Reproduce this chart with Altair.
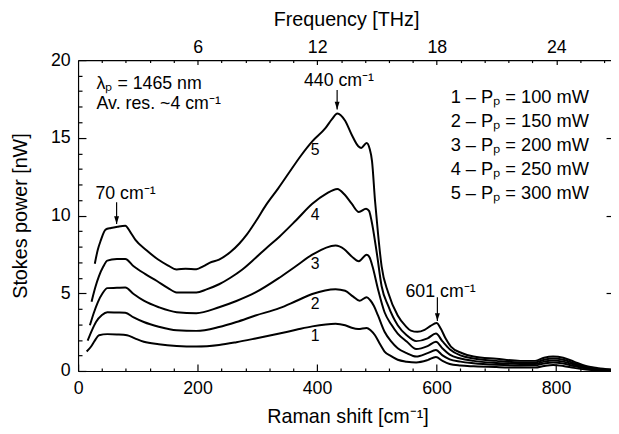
import altair as alt
import pandas as pd

FONT = "Liberation Sans"

# ---- curve data (Raman shift [cm-1], Stokes power [nW]) ----
shift_1 = [14.4, 21.5, 28, 35, 49, 65, 82, 95, 110, 135, 165, 198, 236, 265, 297, 337, 365, 392, 431, 447,
           458, 469, 483, 490, 497, 505, 513, 524, 535, 550, 566, 585, 599, 610, 622, 640, 662, 700, 740, 765,
           780, 795, 812, 830, 850, 870, 892]
power_1 = [1.25, 1.56, 1.95, 2.3, 2.37, 2.35, 2.3, 2.1, 1.88, 1.72, 1.61, 1.57, 1.67, 1.85, 2.09, 2.41, 2.65, 2.87, 3.04, 2.94,
           2.78, 2.7, 2.77, 2.6, 2.3, 1.75, 1.25, 0.95, 0.72, 0.6, 0.55, 0.7, 0.9, 0.65, 0.45, 0.35, 0.3, 0.25, 0.22, 0.22,
           0.32, 0.38, 0.32, 0.2, 0.1, 0.05, 0.03]

shift_2 = [16, 23, 30, 40, 49, 65, 79, 93, 110, 135, 165, 198, 236, 265, 297, 337, 365, 392, 431, 447,
           460, 471, 483, 489, 495, 502, 513, 524, 535, 550, 566, 585, 599, 610, 622, 640, 662, 700, 740, 765,
           780, 795, 812, 830, 850, 870, 892]
power_2 = [1.95, 2.6, 3.15, 3.6, 3.78, 3.76, 3.74, 3.45, 3.15, 2.85, 2.62, 2.58, 2.83, 3.15, 3.57, 4.04, 4.5, 4.95, 5.26, 5.16,
           4.8, 4.52, 4.74, 4.55, 4.2, 3.57, 2.52, 1.9, 1.46, 1.15, 0.93, 1.15, 1.35, 1.0, 0.75, 0.6, 0.5, 0.4, 0.35, 0.36,
           0.48, 0.55, 0.48, 0.32, 0.17, 0.09, 0.05]

shift_3 = [19.8, 26, 33, 41, 49, 65, 79, 93, 110, 135, 165, 198, 236, 265, 297, 337, 365, 392, 431, 445,
           458, 470, 483, 488, 493, 502, 513, 524, 535, 550, 566, 585, 599, 610, 622, 640, 662, 700, 740, 765,
           780, 795, 812, 830, 850, 870, 892]
power_3 = [2.94, 3.7, 4.42, 5.0, 5.33, 5.35, 5.37, 4.95, 4.52, 4.1, 3.78, 3.72, 4.1, 4.5, 5.05, 6.0, 6.75, 7.48, 8.07, 7.85,
           7.37, 7.06, 7.48, 7.3, 6.7, 5.26, 3.78, 3.0, 2.41, 1.9, 1.41, 1.6, 1.88, 1.45, 1.05, 0.8, 0.65, 0.52, 0.45, 0.45,
           0.6, 0.68, 0.6, 0.42, 0.22, 0.12, 0.07]

shift_4 = [22.6, 29, 35, 42, 49, 65, 79, 93, 112, 132, 150, 165, 198, 215, 236, 255, 275, 297, 315, 337,
           365, 392, 415, 434, 446, 458, 470, 482, 487, 491, 500, 508, 519, 535, 550, 566, 585, 599, 610, 622,
           640, 662, 700, 740, 765, 780, 795, 812, 830, 850, 870, 892]
power_4 = [4.46, 5.4, 6.1, 6.7, 7.1, 7.2, 7.21, 6.74, 6.25, 5.79, 5.35, 5.05, 5.05, 5.25, 5.58, 6.0, 6.53, 7.27, 7.9, 8.64,
           9.7, 10.76, 11.4, 11.71, 11.35, 10.76, 10.23, 10.44, 10.3, 9.7, 7.59, 5.47, 4.2, 2.94, 2.3, 1.92, 2.1, 2.41, 1.9, 1.4,
           1.0, 0.8, 0.65, 0.55, 0.55, 0.72, 0.8, 0.72, 0.5, 0.27, 0.15, 0.08]

shift_5 = [28, 33, 38, 46, 55, 66, 79, 88, 96, 115, 134, 150, 165, 180, 198, 210, 220, 236, 255, 270,
           282, 297, 315, 335, 353, 372, 392, 414, 425, 434, 447, 458, 469, 474, 483, 488, 492, 497, 502, 508,
           519, 535, 548, 557, 568, 580, 590, 600, 607, 615, 624, 643, 662, 700, 740, 765, 780, 795, 812, 830,
           850, 870, 892]
power_5 = [6.9, 7.8, 8.4, 9.1, 9.2, 9.28, 9.34, 8.9, 8.43, 7.75, 7.17, 6.8, 6.53, 6.58, 6.55, 6.75, 6.96, 7.17, 7.65, 8.2,
           8.75, 9.6, 10.7, 11.75, 12.75, 13.8, 14.77, 15.62, 16.2, 16.57, 16.1, 15.2, 14.46, 14.35, 14.67, 14.3, 13.5, 10.97, 8.86, 6.74,
           5.05, 3.57, 2.9, 2.6, 2.52, 2.65, 2.9, 3.08, 2.73, 2.1, 1.57, 1.14, 0.93, 0.78, 0.65, 0.65, 0.85, 0.93, 0.85, 0.6,
           0.32, 0.18, 0.1]

curve_ids = ["1", "2", "3", "4", "5"]

# ---- ticks ----
x_major = [0, 200, 400, 600, 800]
x_minor = [40, 80, 120, 160, 240, 280, 320, 360, 440, 480, 520, 560, 640, 680, 720, 760, 840, 880]
y_major = [0, 5, 10, 15, 20]
y_minor = [1, 2, 3, 4, 6, 7, 8, 9, 11, 12, 13, 14, 16, 17, 18, 19]
y_right = [5, 10, 15]
CM_PER_THZ = 33.35641
thz_major = [6, 12, 18, 24]
thz_minor = [1.2, 2.4, 3.6, 4.8, 7.2, 8.4, 9.6, 10.8, 13.2, 14.4, 15.6, 16.8, 19.2, 20.4, 21.6, 22.8, 25.2, 26.4]

# ---- annotations ----
annot_labels = ["λₚ = 1465 nm", "Av. res. ~4 cm⁻¹", "70 cm⁻¹", "440 cm⁻¹", "601 cm⁻¹"]
annot_x = [31, 31, 29, 378, 548]
annot_y = [18.45, 17.2, 11.35, 18.66, 5.09]

legend_labels = ["1 – Pₚ = 100 mW", "2 – Pₚ = 150 mW", "3 – Pₚ = 200 mW", "4 – Pₚ = 250 mW", "5 – Pₚ = 300 mW"]
legend_x = [623.6, 623.6, 623.6, 623.6, 623.6]
legend_y = [17.6, 16.06, 14.53, 12.98, 11.43]

curve_label_x = [397, 397, 397, 397, 397]
curve_label_y = [2.25, 4.28, 6.87, 10.0, 14.22]

arrow_x = [64.5, 433.6, 601.4]
arrow_top = [10.86, 18.07, 4.74]
arrow_tip = [9.45, 16.82, 3.21]

# ---- tables ----
series = [(shift_1, power_1), (shift_2, power_2), (shift_3, power_3), (shift_4, power_4), (shift_5, power_5)]
rows = []
for cid, (sx, sy) in zip(curve_ids, series):
    for a, b in zip(sx, sy):
        rows.append({"shift": a, "power": b, "curve": cid})
df = pd.DataFrame(rows)

annot_df = pd.DataFrame({"shift": annot_x, "power": annot_y, "label": annot_labels})
legend_df = pd.DataFrame({"shift": legend_x, "power": legend_y, "label": legend_labels})
clabel_df = pd.DataFrame({"shift": curve_label_x, "power": curve_label_y, "label": curve_ids})
arrow_df = pd.DataFrame({"shift": arrow_x, "top": arrow_top, "power": arrow_tip})

xs = alt.Scale(domain=[0, 892], nice=False, zero=False)
ys = alt.Scale(domain=[0, 20], nice=False, zero=False)


def axis(**kw):
    base = dict(grid=False, domain=False, ticks=False, labels=False, labelFlush=False,
                domainColor="black", tickColor="black", labelColor="black", titleColor="black",
                labelFont=FONT, titleFont=FONT, domainWidth=1.2, tickWidth=1.2)
    base.update(kw)
    return alt.Axis(**base)


base = alt.Chart(df)

lines = base.mark_line(color="black", strokeWidth=2, interpolate="monotone").encode(
    x=alt.X("shift:Q", scale=xs, title="Raman shift [cm⁻¹]",
            axis=axis(orient="bottom", domain=True, labels=True, values=x_major, tickSize=0,
                      labelFontSize=18, labelPadding=9, titleFontSize=20, titleFontWeight="normal",
                      titleBaseline="alphabetic", titleY=52, titleX=273)),
    y=alt.Y("power:Q", scale=ys, title="Stokes power [nW]",
            axis=axis(orient="left", domain=True, labels=True, values=y_major, tickSize=0,
                      labelFontSize=18, labelPadding=8, titleFontSize=20, titleFontWeight="normal",
                      titleBaseline="alphabetic", titleAngle=270, titleX=-52, titleY=157.5,
                      titleAlign="center")),
    detail="curve:N",
)


def tick_layer(xaxis, yaxis):
    enc = {
        "x": alt.X("shift:Q", scale=xs, title=None, axis=xaxis),
        "y": alt.Y("power:Q", scale=ys, title=None, axis=yaxis),
        "detail": "curve:N",
    }
    return base.mark_line(strokeOpacity=0).encode(**enc)


major_ticks = tick_layer(
    axis(orient="bottom", ticks=True, tickSize=7, offset=-7, values=x_major),
    axis(orient="left", ticks=True, tickSize=8, offset=-8, values=y_major),
)
minor_ticks = tick_layer(
    axis(orient="bottom", ticks=True, tickSize=3, offset=-3, values=x_minor),
    axis(orient="left", ticks=True, tickSize=4, offset=-4, values=y_minor),
)
top_axis = base.mark_line(strokeOpacity=0).encode(
    x=alt.X("shift:Q", scale=xs, title="Frequency [THz]",
            axis=axis(orient="top", domain=True, labels=True, tickSize=0,
                      values=[v * CM_PER_THZ for v in thz_major],
                      labelExpr="format(datum.value / 33.35641, '.0f')",
                      labelFontSize=18, labelPadding=4, titleFontSize=20, titleFontWeight="normal",
                      titleBaseline="alphabetic", titleY=-35, titleX=271.5)),
    y=alt.Y("power:Q", scale=ys, title=None,
            axis=axis(orient="right", ticks=True, tickSize=5, offset=-5, values=y_right)),
    detail="curve:N",
)
top_major = tick_layer(
    axis(orient="top", ticks=True, tickSize=4.5, offset=-4.5, values=[v * CM_PER_THZ for v in thz_major]),
    None,
)
top_minor = tick_layer(
    axis(orient="top", ticks=True, tickSize=2.5, offset=-2.5, values=[v * CM_PER_THZ for v in thz_minor]),
    None,
)

annot = alt.Chart(annot_df).mark_text(align="left", baseline="middle", font=FONT, fontSize=18, color="black").encode(
    x=alt.X("shift:Q", scale=xs, axis=None),
    y=alt.Y("power:Q", scale=ys, axis=None),
    text="label:N",
)
legend = alt.Chart(legend_df).mark_text(align="left", baseline="middle", font=FONT, fontSize=18.5, color="black").encode(
    x=alt.X("shift:Q", scale=xs, axis=None),
    y=alt.Y("power:Q", scale=ys, axis=None),
    text="label:N",
)
clabels = alt.Chart(clabel_df).mark_text(align="center", baseline="middle", font=FONT, fontSize=16, color="black").encode(
    x=alt.X("shift:Q", scale=xs, axis=None),
    y=alt.Y("power:Q", scale=ys, axis=None),
    text="label:N",
)
arrows = alt.Chart(arrow_df).mark_rule(color="black", strokeWidth=1.2).encode(
    x=alt.X("shift:Q", scale=xs, axis=None),
    y=alt.Y("top:Q", scale=ys, axis=None),
    y2="power:Q",
)
heads = alt.Chart(arrow_df).mark_point(shape="M-2.5,-8L2.5,-8L0,0Z", size=4, filled=True, color="black", opacity=1).encode(
    x=alt.X("shift:Q", scale=xs, axis=None),
    y=alt.Y("power:Q", scale=ys, axis=None),
)

chart = alt.layer(
    lines, major_ticks, minor_ticks, top_axis, top_major, top_minor,
    annot, legend, clabels, arrows, heads,
).resolve_axis(
    x="independent", y="independent"
).properties(
    width=540, height=315,
    autosize=alt.AutoSizeParams(type="none"),
    padding={"left": 71, "top": 50, "right": 0, "bottom": 56},
).configure_view(stroke=None)

chart.save("out.html", embed_options={"renderer": "svg", "actions": False})
